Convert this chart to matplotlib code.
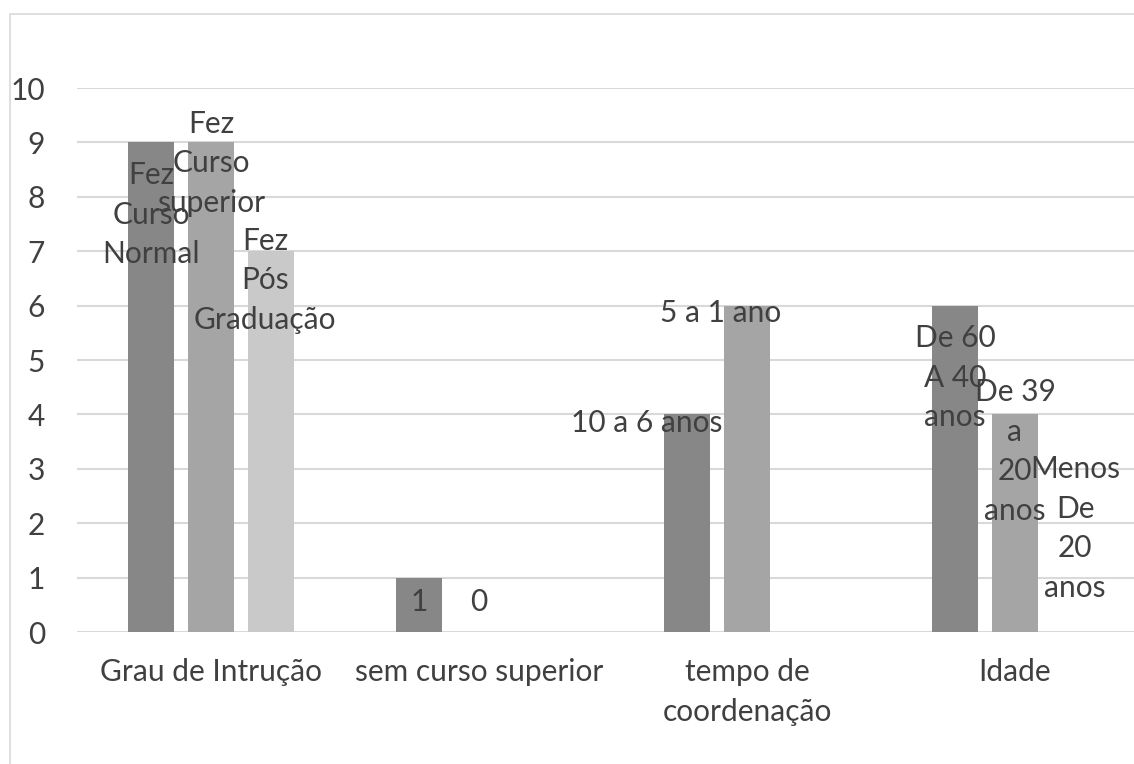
import numpy as np
import matplotlib
matplotlib.use("Agg")
import matplotlib.pyplot as plt
from matplotlib.patches import Rectangle

plt.rcParams['font.family'] = ['Lato', 'DejaVu Sans']

# dados do questionário
categorias = ['Grau de Intrução', 'sem curso superior', 'tempo de\ncoordenação', 'Idade']
serie1 = [9, 1, 4, 6]
serie2 = [9, 0, 6, 4]
serie3 = [7, np.nan, np.nan, 0]
rotulos1 = ['Fez\nCurso\nNormal', '1', '10 a 6 anos', 'De 60\nA 40\nanos']
rotulos2 = ['Fez\nCurso\nsuperior', '0', '5 a 1 ano', 'De 39\na\n20\nanos']
rotulos3 = ['Fez\nPós\nGraduação', '', '', 'Menos\nDe\n20\nanos']

# deslocamento dos rótulos (vertical em unidades do eixo, horizontal em pixels)
desl_y = [[-1.33, -0.45, -0.16, -1.33],
          [-0.38, 0.55, -0.14, -0.68],
          [-0.53, 0, 0, 1.90]]
desl_x = [[0, 0, -40, 0],
          [0, 0, -26, 0],
          [-6, 0, 0, 0]]

cores = ['#878787', '#a5a5a5', '#c9c9c9']
texto = '#404040'
grade = '#d9d9d9'
tam = 21.5

fig = plt.figure(figsize=(11.34, 7.64), dpi=100)

# moldura do gráfico
fig.patches.append(Rectangle((10 / 1134, -0.1), 1.2, (764 - 14) / 764 + 0.1,
                             transform=fig.transFigure, fill=False,
                             edgecolor=grade, linewidth=1.2))

ax = fig.add_axes([77 / 1134, (764 - 632) / 764, 1072 / 1134, 544 / 764])

x = np.arange(len(categorias))
largura = 0.175
passo = 0.224
series = [serie1, serie2, serie3]
rotulos = [rotulos1, rotulos2, rotulos3]

for i, (vals, cor) in enumerate(zip(series, cores)):
    pos = x + (i - 1) * passo
    ax.bar(pos, vals, width=largura, color=cor, zorder=2)
    for j, (p, v) in enumerate(zip(pos, vals)):
        if np.isnan(v) or rotulos[i][j] == '':
            continue
        ax.annotate(rotulos[i][j], (p, v + desl_y[i][j]),
                    xytext=(desl_x[i][j] * 0.72, 0), textcoords='offset points',
                    ha='center', va='center', fontsize=tam, color=texto,
                    linespacing=1.5, zorder=3)

ax.set_xlim(-0.5, 3.5)
ax.set_ylim(0, 10)
ax.set_yticks(range(0, 11))
ax.set_xticks(x)
ax.set_xticklabels(categorias, fontsize=tam, color=texto, linespacing=1.5)
ax.tick_params(axis='y', labelsize=tam, labelcolor=texto, length=0, pad=23)
ax.tick_params(axis='x', length=0, pad=19)
ax.yaxis.grid(True, color=grade, linewidth=1.5, zorder=0)
ax.set_axisbelow(True)
for s in ax.spines.values():
    s.set_visible(False)

fig.savefig('out.png', dpi=100)
